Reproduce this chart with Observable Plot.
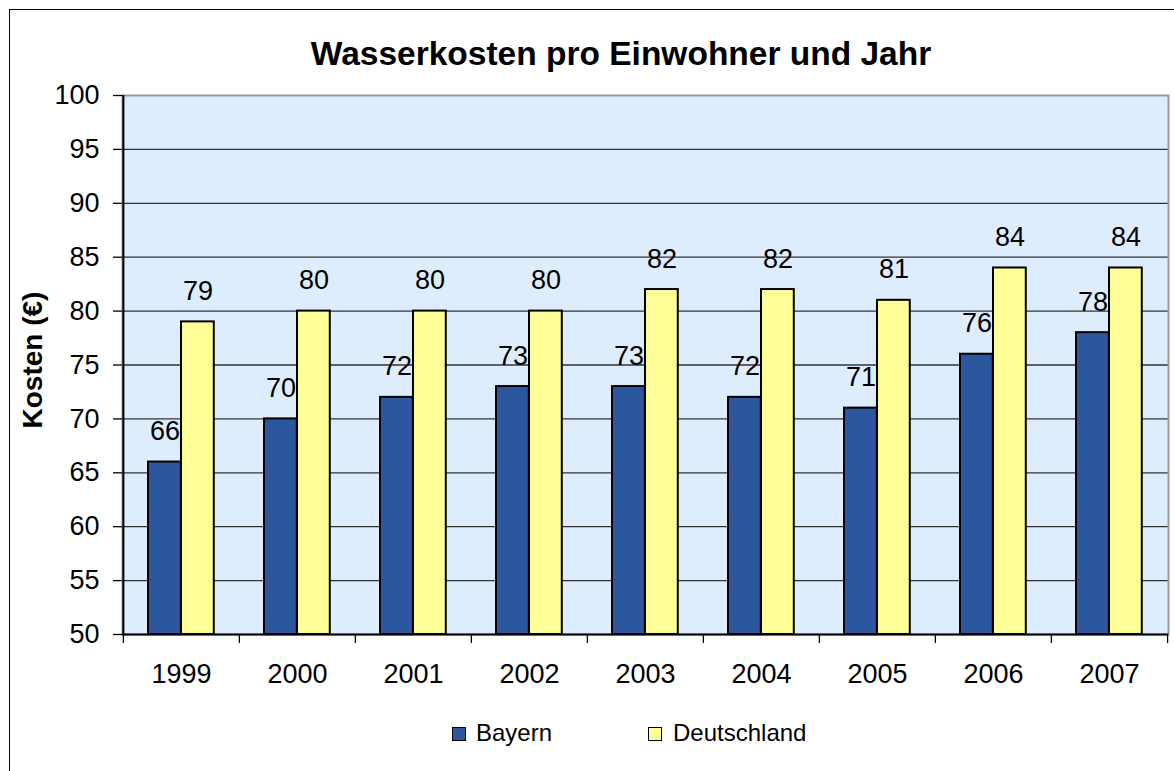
<!DOCTYPE html>
<html>
<head>
<meta charset="utf-8">
<script src="https://cdn.jsdelivr.net/npm/d3@7"></script>
<script src="https://cdn.jsdelivr.net/npm/@observablehq/plot@0.6"></script>
<style>
  html, body { margin: 0; padding: 0; background: #fff; overflow: hidden; }
  #wrap { position: relative; width: 1174px; height: 771px; overflow: hidden;
          font-family: "Liberation Sans", Arial, sans-serif; color: #000; }
  #frame { position: absolute; left: 9px; top: 9px; width: 1400px; height: 1000px;
           border-left: 1px solid #000; border-top: 1px solid #000; }
  #chart { position: absolute; left: 0; top: 0; }
  #title { position: absolute; left: 0; width: 1242px; top: 34px; text-align: center;
           font-weight: bold; font-size: 33.5px; line-height: 40px; }
  .lg-sw { position: absolute; width: 12px; height: 12px; border: 1.5px solid #000; }
  .lg-tx { position: absolute; font-size: 24px; line-height: 28px; }
</style>
</head>
<body>
<div id="wrap">
  <div id="frame"></div>
  <div id="chart"></div>
  <div id="title"></div>
  <div id="legend"></div>
</div>
<script>
// ---- data ----
const years = ["1999", "2000", "2001", "2002", "2003", "2004", "2005", "2006", "2007"];
const bayern = [66, 70, 72, 73, 73, 72, 71, 76, 78];
const deutschland = [79, 80, 80, 80, 82, 82, 81, 84, 84];
const yTicks = [50, 55, 60, 65, 70, 75, 80, 85, 90, 95, 100];
const seriesNames = ["Bayern", "Deutschland"];
const titleText = "Wasserkosten pro Einwohner und Jahr";
const yTitle = "Kosten (€)";

// ---- styling / layout ----
const W = 1174, H = 771;
const mL = 122, mR = 6, mT = 95, mB = 137;
const colors = {Bayern: "#2c569e", Deutschland: "#ffff99"};
const bg = "#deedfe";
const bw = (W - mL - mR) / years.length;
const pad = 25, barW = 33;
const fs = 27;

const bayData = years.map((y, i) => ({year: y, value: bayern[i], series: "Bayern"}));
const deuData = years.map((y, i) => ({year: y, value: deutschland[i], series: "Deutschland"}));

const font = "'Liberation Sans', Arial, sans-serif";

const chart = Plot.plot({
  width: W,
  height: H,
  marginLeft: mL, marginRight: mR, marginTop: mT, marginBottom: mB,
  style: {fontFamily: font, fontSize: fs + "px", background: "transparent", overflow: "visible", color: "#000"},
  x: {type: "band", domain: years, padding: 0, axis: null},
  y: {domain: [50, 100], axis: null},
  marks: [
    Plot.frame({fill: bg}),
    Plot.ruleY(yTicks.filter(d => d > 50 && d < 100), {stroke: "#333", strokeWidth: 1.3}),
    Plot.frame({stroke: "#999", strokeWidth: 2}),
    Plot.barY(bayData, {x: "year", y1: 50, y2: "value", fill: colors.Bayern, stroke: "#000", strokeWidth: 2,
      insetLeft: pad, insetRight: bw - pad - barW}),
    Plot.barY(deuData, {x: "year", y1: 50, y2: "value", fill: colors.Deutschland, stroke: "#000", strokeWidth: 2,
      insetLeft: pad + barW, insetRight: bw - pad - 2 * barW}),
    Plot.text(bayData, {x: "year", y: "value", text: d => String(d.value), dx: -barW / 2, dy: -22,
      lineAnchor: "bottom", fontSize: fs, fill: "#000"}),
    Plot.text(deuData, {x: "year", y: "value", text: d => String(d.value), dx: barW / 2, dy: -22,
      lineAnchor: "bottom", fontSize: fs, fill: "#000"}),
    // bottom axis line
    Plot.ruleY([50], {stroke: "#000", strokeWidth: 2}),
    // left axis line
    Plot.ruleX([years[0]], {x: d => d, dx: -bw / 2, stroke: "#000", strokeWidth: 2}),
    // x tick marks at category boundaries
    Plot.ruleX(years, {x: d => d, y1: 50, y2: 50, insetBottom: -9, dx: -bw / 2, stroke: "#000", strokeWidth: 1.3}),
    Plot.ruleX([years[years.length - 1]], {x: d => d, y1: 50, y2: 50, insetBottom: -9, dx: bw / 2, stroke: "#000", strokeWidth: 1.3}),
    Plot.axisY({ticks: yTicks, tickSize: 9, tickPadding: 14, fontSize: fs, label: null, stroke: "#000", strokeWidth: 1.3}),
    Plot.axisX({tickSize: 0, tickPadding: 29, fontSize: fs, label: null}),
    Plot.text([yTitle], {frameAnchor: "left", text: d => d, rotate: -90, dx: -89, dy: -5,
      textAnchor: "middle", fontWeight: "bold", fontSize: 28, fill: "#000"})
  ]
});
document.getElementById("chart").appendChild(chart);
document.getElementById("title").textContent = titleText;

// legend
const legend = document.getElementById("legend");
const legPos = [{sw: 452, tx: 476}, {sw: 648, tx: 673}];
seriesNames.forEach((name, i) => {
  const sw = document.createElement("div");
  sw.className = "lg-sw";
  sw.style.left = legPos[i].sw + "px";
  sw.style.top = "727px";
  sw.style.background = colors[name];
  legend.appendChild(sw);
  const tx = document.createElement("div");
  tx.className = "lg-tx";
  tx.style.left = legPos[i].tx + "px";
  tx.style.top = "719px";
  tx.textContent = name;
  legend.appendChild(tx);
});
</script>
</body>
</html>
